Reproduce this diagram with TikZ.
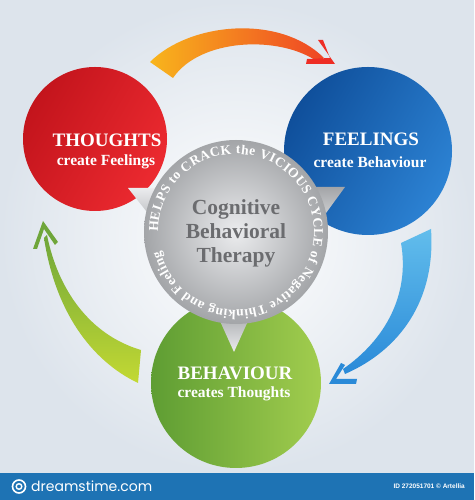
\documentclass[tikz,border=0pt]{standalone}
\usepackage{fontspec}
\setmainfont{Liberation Serif}
\newfontfamily\logofont{Poppins}
\newfontfamily\idfont{Liberation Sans}
\usetikzlibrary{decorations.text}
\definecolor{bgout}{HTML}{DDE4EC}
\definecolor{barblue}{HTML}{1E73B4}
\definecolor{redA}{HTML}{EC2A30}
\definecolor{redB}{HTML}{C3141C}
\definecolor{blueA}{HTML}{2C82D3}
\definecolor{blueB}{HTML}{0F4F9B}
\definecolor{greenA}{HTML}{A2CD4E}
\definecolor{greenB}{HTML}{5E9D33}
\definecolor{grayIn}{HTML}{EBECEE}
\definecolor{grayOut}{HTML}{A3A5A8}
\definecolor{grayTxt}{HTML}{6B6C6F}
\definecolor{orA}{HTML}{F8B51C}
\definecolor{orB}{HTML}{EF4524}
\definecolor{orHead}{HTML}{EE2D24}
\definecolor{ltbA}{HTML}{62BDEC}
\definecolor{ltbB}{HTML}{2A8AD8}
\definecolor{lgA}{HTML}{C3D933}
\definecolor{lgB}{HTML}{6FA63A}
\tikzset{
  bigcircle/.style={circle, inner sep=0pt},
  title/.style={text=white, font=\fontsize{19}{22}\selectfont\bfseries, inner sep=0pt},
  sub/.style={text=white, font=\fontsize{15.5}{18}\selectfont\bfseries, inner sep=0pt},
  pointer/.style={left color=grayIn, right color=grayOut}
}
\begin{document}
\begin{tikzpicture}[x=1pt,y=1pt]
\useasboundingbox (0,0) rectangle (474,500);
% background
\shade[inner color=white, outer color=bgout] (0,27) rectangle (474,500);
\fill[barblue] (0,0) rectangle (474,27);
\node[text=white, font=\logofont\fontsize{14}{16}\selectfont, anchor=west, inner sep=0pt] (logo) at (31,13.5) {dreamstime.com};
\draw[white, line width=1.6pt] (19,13.5) circle (6.5);
\draw[white, line width=1.4pt] (19,13.5) circle (2.8);
\node[text=white, font=\idfont\fontsize{6.5}{8}\selectfont\bfseries, anchor=east, inner sep=0pt] (id) at (465,13.5) {ID 272051701 \textcopyright{} Artellia};

% three circles
\node[bigcircle, minimum size=144pt, left color=redB, right color=redA, shading angle=60] (red) at (95,361) {};
\node[bigcircle, minimum size=168pt, left color=blueB, right color=blueA, shading angle=60] (blue) at (368,349) {};
\node[bigcircle, minimum size=170pt, left color=greenB, right color=greenA] (green) at (236,117) {};

% orange arrow (top)
\shade[left color=orA, right color=orB]
  (150,438) .. controls (190,478) and (280,486) .. (324,442)
  -- (318,438) .. controls (280,465) and (200,462) .. (173,422) -- cycle;
\fill[orHead] (335,436) -- (318,460) -- (323,460) -- (330,442) -- (307,441) -- (306,436) -- cycle;

% blue arrow (right)
\shade[top color=ltbA, bottom color=ltbB]
  (431,271) .. controls (436,200) and (400,150) .. (345,126)
  -- (343,131) .. controls (385,160) and (410,205) .. (401,257) -- cycle;
\fill[ltbB] (329,116) -- (341,137) -- (345,135) -- (336,121) -- (357,121) -- (356,116) -- cycle;

% green arrow (left)
\shade[top color=lgB, bottom color=lgA]
  (138,117) .. controls (90,140) and (55,190) .. (44,262)
  -- (47,265) .. controls (58,210) and (90,165) .. (141,150) -- cycle;
\fill[lgB] (43,279) -- (33,251) -- (37,251) -- (44,271) -- (55,255) -- (58,258) -- cycle;

% gray pointers
\shade[pointer, shading angle=0] (128,312) -- (180,312) -- (165,265) -- cycle;
\shade[pointer, shading angle=180] (345,313) -- (295,313) -- (310,265) -- cycle;
\shade[top color=grayOut, bottom color=grayIn] (234,148) -- (215,190) -- (253,190) -- cycle;
% gray circle
\node[bigcircle, minimum size=184pt, inner color=grayIn, outer color=grayOut] (cbt) at (236,268) {};
\path[decorate, decoration={text along path, text align=fit to path,
  text={|\color{white}\fontsize{13.5}{13.5}\selectfont\bfseries|HELPS to CRACK the VICIOUS CYCLE of Negative Thinking and Feeling}}]
  (cbt.center) ++(180:78) arc[start angle=180, end angle=-166, radius=78];
\node[text=grayTxt, font=\fontsize{21.5}{24}\selectfont\bfseries, align=center, inner sep=0pt] (cbttext) at (236,267) {Cognitive\\Behavioral\\Therapy};

% texts
\node[title] (t1) at (107,360) {THOUGHTS};
\node[sub] (t2) at (106,338) {create Feelings};
\node[title] (f1) at (371,361) {FEELINGS};
\node[sub] (f2) at (370,338) {create Behaviour};
\node[title] (b1) at (235,127) {BEHAVIOUR};
\node[sub] (b2) at (234,106) {creates Thoughts};
\end{tikzpicture}
\end{document}
